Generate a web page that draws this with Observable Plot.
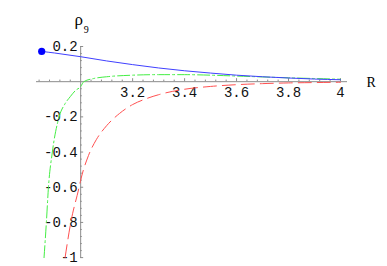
<!DOCTYPE html>
<html>
<head>
<meta charset="utf-8">
<script src="https://cdn.jsdelivr.net/npm/d3@7"></script>
<script src="https://cdn.jsdelivr.net/npm/@observablehq/plot@0.6"></script>
<style>
  html, body { margin: 0; padding: 0; background: #fff; }
  #chart { width: 387px; height: 266px; }
</style>
</head>
<body>
<div id="chart"></div>
<script>
// Series
const blueR = [2.85, 2.9, 3.0, 3.1, 3.2, 3.3, 3.4, 3.5, 3.6, 3.7, 3.8, 3.9, 4.0];
const blueV = [0.172, 0.163, 0.142, 0.118, 0.097, 0.078, 0.062, 0.049, 0.037, 0.028, 0.021, 0.015, 0.011];

const greenR = [2.859, 2.868, 2.876, 2.891, 2.917, 2.94, 2.96, 2.98, 3.0, 3.012, 3.05, 3.1, 3.2, 3.3, 3.4, 3.5, 3.6, 3.7, 3.8, 3.9, 4.0];
const greenV = [-1.0, -0.8, -0.6, -0.4, -0.2, -0.125, -0.085, -0.05, -0.028, 0.0, 0.018, 0.028, 0.037, 0.040, 0.040, 0.037, 0.032, 0.027, 0.022, 0.018, 0.014];

const redR = [2.94, 2.962, 2.994, 3.0, 3.03, 3.06, 3.1, 3.15, 3.2, 3.25, 3.3, 3.4, 3.5, 3.6, 3.7, 3.8, 3.9, 4.0];
const redV = [-1.0, -0.8, -0.6, -0.56, -0.42, -0.33, -0.25, -0.18, -0.13, -0.098, -0.074, -0.043, -0.027, -0.017, -0.011, -0.007, -0.005, -0.003];

// Axes / ticks
const xTicks = [3.2, 3.4, 3.6, 3.8, 4.0];
const xTickLabels = ["3.2", "3.4", "3.6", "3.8", "4"];
const yTicks = [-1.0, -0.8, -0.6, -0.4, -0.2, 0.2];
const yTickLabels = ["-1", "-0.8", "-0.6", "-0.4", "-0.2", "0.2"];
const xOrigin = 3.0;
const yOrigin = 0.0;
const xDomain = [2.83, 4.027];
const yDomain = [-1.005, 0.2];
const xLabel = "R";
const yLabel = "ρ";
const yLabelSub = "9";

const W = 387, H = 266;
const mL = 36, mR = 40, mT = 46, mB = 8;
const kx = (W - mL - mR) / (xDomain[1] - xDomain[0]);
const ky = (H - mT - mB) / (yDomain[1] - yDomain[0]);
const major = 3, minor = 1.6;

const xMinor = d3.range(2.84, 4.001, 0.04).map(v => +v.toFixed(2))
  .filter(v => Math.abs(v - xOrigin) > 1e-6 && !xTicks.some(t => Math.abs(t - v) < 1e-6));
const yMinor = d3.range(-1.0, 0.2001, 0.04).map(v => +v.toFixed(2))
  .filter(v => Math.abs(v - yOrigin) > 1e-6 && !yTicks.some(t => Math.abs(t - v) < 1e-6));

const blue = blueR.map((r, i) => ({r, v: blueV[i]}));
const green = greenR.map((r, i) => ({r, v: greenV[i]}));
const red = redR.map((r, i) => ({r, v: redV[i]}));

const axisColor = "#8c8c8c";
const mono = "Liberation Mono, DejaVu Sans Mono, monospace";
const serif = "Liberation Serif, DejaVu Serif, serif";

const chart = Plot.plot({
  width: W, height: H,
  marginLeft: mL, marginRight: mR, marginTop: mT, marginBottom: mB,
  x: {domain: xDomain, axis: null},
  y: {domain: yDomain, axis: null},
  style: {background: "#fff", overflow: "visible"},
  marks: [
    // axes lines
    Plot.ruleY([yOrigin], {x1: xDomain[0], x2: xDomain[1], stroke: axisColor, strokeWidth: 1}),
    Plot.ruleX([xOrigin], {y1: yDomain[0], y2: yDomain[1], stroke: axisColor, strokeWidth: 1}),
    // x ticks (pointing up)
    Plot.ruleX(xTicks, {x: d => d, y1: yOrigin, y2: yOrigin + major / ky, stroke: axisColor}),
    Plot.ruleX(xMinor, {x: d => d, y1: yOrigin, y2: yOrigin + minor / ky, stroke: axisColor}),
    // y ticks (pointing right)
    Plot.ruleY(yTicks, {y: d => d, x1: xOrigin, x2: xOrigin + major / kx, stroke: axisColor}),
    Plot.ruleY(yMinor, {y: d => d, x1: xOrigin, x2: xOrigin + minor / kx, stroke: axisColor}),
    // tick labels
    Plot.text(xTicks, {x: d => d, y: yOrigin, text: (d, i) => xTickLabels[i], dy: 11, fontFamily: mono, fontSize: 14, fill: "#111", textAnchor: "middle"}),
    Plot.text(yTicks, {x: xOrigin, y: d => d, text: (d, i) => yTickLabels[i], dx: -3, fontFamily: mono, fontSize: 14, fill: "#111", textAnchor: "end"}),
    // axis labels
    Plot.text([xLabel], {x: xDomain[1], y: yOrigin, text: d => d, dx: 19, dy: 1, fontFamily: serif, fontSize: 14, fill: "#000", textAnchor: "start"}),
    Plot.text([yLabel], {x: xOrigin, y: yDomain[1], text: d => d, dx: -2, dy: -27, fontFamily: serif, fontSize: 17, fill: "#000", textAnchor: "middle"}),
    Plot.text([yLabelSub], {x: xOrigin, y: yDomain[1], text: d => d, dx: 3, dy: -17, fontFamily: serif, fontSize: 10, fill: "#000", textAnchor: "start"}),
    // curves
    Plot.line(red, {x: "r", y: "v", stroke: "#ff5050", strokeWidth: 1, strokeDasharray: "13,6", curve: "monotone-x"}),
    Plot.line(green, {x: "r", y: "v", stroke: "#44ee44", strokeWidth: 1, strokeDasharray: "12,3,2,3", curve: "monotone-x"}),
    Plot.line(blue, {x: "r", y: "v", stroke: "#4040ff", strokeWidth: 1, curve: "monotone-x"}),
    Plot.dot([blue[0]], {x: "r", y: "v", r: 3.6, fill: "#0000ff", stroke: "none"})
  ]
});
document.getElementById("chart").appendChild(chart);
</script>
</body>
</html>
